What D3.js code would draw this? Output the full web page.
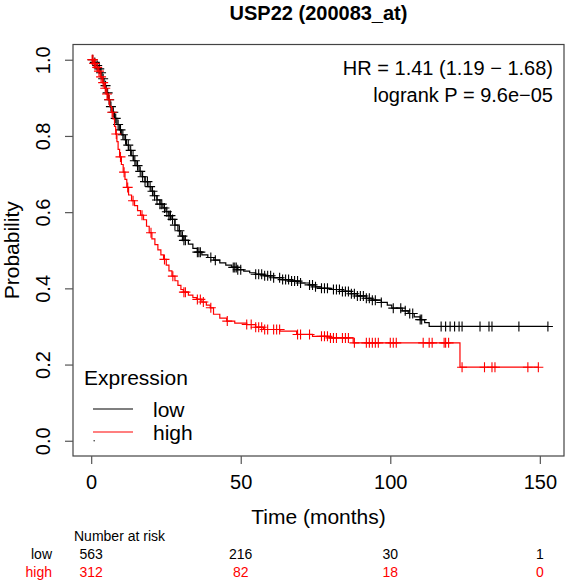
<!DOCTYPE html>
<html><head><meta charset="utf-8">
<script src="https://cdn.jsdelivr.net/npm/d3@7"></script>
<style>body{margin:0;background:#fff}svg{display:block;font-family:"Liberation Sans",Arial,sans-serif}</style>
</head><body>
<script>
const title = "USP22 (200083_at)";
const groups = ["low", "high"];
const groupColors = ["#000000", "#ff0000"];
const xTicks = [0, 50, 100, 150];
const yTicks = [0.0, 0.2, 0.4, 0.6, 0.8, 1.0];
const statLines = ["HR = 1.41 (1.19 \u2212 1.68)", "logrank P = 9.6e\u221205"];
const riskTimes = [0, 50, 100, 150];
const riskLow = [563, 216, 30, 1];
const riskHigh = [312, 82, 18, 0];

// Kaplan-Meier steps [time, survival]
const lowSteps = [[0,1],[0.8,0.993],[1.5,0.985],[2.2,0.976],[3,0.966],[3.6,0.95],[4.3,0.932],[5,0.913],[5.7,0.895],[6.3,0.877],[7,0.862],[7.8,0.846],[8.6,0.83],[9.4,0.816],[10.2,0.803],[11,0.79],[11.8,0.776],[12.6,0.762],[13.4,0.748],[14.2,0.735],[15,0.722],[16,0.707],[17,0.693],[18,0.68],[19,0.667],[20,0.655],[21,0.643],[22,0.632],[23,0.621],[24,0.611],[25,0.601],[26,0.591],[27,0.581],[28,0.566],[29,0.551],[30,0.537],[31,0.526],[32.5,0.516],[34,0.505],[35.5,0.495],[37,0.488],[39,0.481],[41,0.474],[43,0.467],[45,0.461],[47,0.455],[49,0.449],[51,0.445],[53,0.441],[55,0.437],[58,0.433],[61,0.428],[64,0.423],[67,0.419],[70,0.414],[73,0.409],[75,0.404],[77,0.4],[80,0.397],[84,0.392],[87,0.386],[89,0.38],[92,0.374],[94,0.369],[97,0.363],[99,0.356],[100.5,0.348],[104,0.341],[106,0.334],[108,0.325],[110,0.318],[111.5,0.31],[113,0.30]];
const lowEnd = 152.7;
const lowCensor = [0.5,1.2,2,2.7,3.3,4,4.8,5.5,6,6.6,7.4,8.2,9,9.8,10.6,11.5,12.4,13.2,14,14.6,15.5,16.4,17.2,18,18.8,19.7,20.5,21.2,22,23,23.6,24.5,25.3,26,26.5,27.2,28,29.5,30.5,31,31.5,35.5,36,36.5,40,41.5,47.5,48,48.5,49,50,55,56,57,58,59,60,61,63,64,65,66,67,68,69,70,73,74,75,77,78,79,81,82,83,84,85,86,87,88,89,90,91,92,93,94,95,97,101,103.5,105,106.5,107.5,110,110.5,117,118.5,120,121.5,123,124,130,133,134,143,152.7];

const highSteps = [[0,1],[0.8,0.99],[1.5,0.98],[2.3,0.97],[3,0.955],[3.7,0.94],[4.4,0.925],[5,0.91],[5.6,0.895],[6.2,0.878],[6.8,0.862],[7.3,0.845],[7.8,0.825],[8.2,0.805],[8.6,0.785],[9,0.765],[9.5,0.745],[10.1,0.725],[10.7,0.705],[11.3,0.686],[11.9,0.665],[12.5,0.645],[13.5,0.63],[14.5,0.617],[15.5,0.604],[16.5,0.592],[17.5,0.58],[18.5,0.563],[19.4,0.546],[20.3,0.53],[21.3,0.515],[22.3,0.501],[23.3,0.488],[24.2,0.476],[25.1,0.461],[26,0.446],[27,0.432],[28,0.42],[29,0.408],[30,0.397],[30.8,0.39],[32.5,0.382],[34,0.376],[35.3,0.371],[37,0.364],[38.5,0.356],[39.8,0.349],[40.9,0.332],[43,0.322],[45.3,0.314],[48,0.309],[52,0.305],[55,0.298],[57.6,0.292],[63.1,0.288],[68.7,0.279],[74,0.274],[79.8,0.27],[87.6,0.257],[123.3,0.193]];
const highEnd = 149.5;
const highCensor = [0.3,0.6,1,1.3,2,2.6,3.3,4,4.7,5.3,6,7,8.4,9.8,11,12.2,14,17,20,24.5,27.3,31,31.5,35.5,36.5,37.5,40,45.5,52,53.5,55,56,57,58,59,61,62,63,69,70,73,77,78,79,80,81,82,84,85,86,88,92,93,94,95,96,100,101,102,111,113,114,118,118.5,119.5,124,131.5,134,135,146,149.5];

const W = 566, H = 581;
const box = {left: 73, right: 564, top: 44.5, bottom: 456};
const svg = d3.select("body").append("svg").attr("width", W).attr("height", H);

const x = d3.scaleLinear().domain([-6.08, 158.08]).range([box.left, box.right]);
const y = d3.scaleLinear().domain([-0.04, 1.04]).range([box.bottom, box.top]);

// title
svg.append("text").attr("x", (box.left + box.right) / 2).attr("y", 20)
  .attr("text-anchor", "middle").attr("font-size", 20).attr("font-weight", "bold").text(title);

// box
svg.append("rect").attr("x", box.left).attr("y", box.top)
  .attr("width", box.right - box.left).attr("height", box.bottom - box.top)
  .attr("fill", "none").attr("stroke", "#444").attr("stroke-width", 1.2);

// x axis
const xAxis = d3.axisBottom(x).tickValues(xTicks).tickSize(8).tickPadding(4).tickFormat(d3.format("d"));
const gx = svg.append("g").attr("transform", `translate(0,${box.bottom})`).call(xAxis);
gx.select(".domain").remove();
gx.selectAll("line").attr("stroke", "#555").attr("stroke-width", 1.2);
gx.selectAll("text").attr("font-size", 20).attr("fill", "#000")
  .attr("font-family", "Liberation Sans, Arial, sans-serif").attr("dy", null).attr("y", 33);

// y axis
const yAxis = d3.axisLeft(y).tickValues(yTicks).tickSize(8).tickFormat(d3.format(".1f"));
const gy = svg.append("g").attr("transform", `translate(${box.left},0)`).call(yAxis);
gy.select(".domain").remove();
gy.selectAll("line").attr("stroke", "#555").attr("stroke-width", 1.2);
gy.selectAll("text").attr("font-size", 20).attr("fill", "#000")
  .attr("font-family", "Liberation Sans, Arial, sans-serif")
  .attr("x", null).attr("dy", null)
  .attr("text-anchor", "middle")
  .attr("transform", "translate(-23,0) rotate(-90)");

// axis titles
svg.append("text").attr("x", (box.left + box.right) / 2).attr("y", 524)
  .attr("text-anchor", "middle").attr("font-size", 21).text("Time (months)");
svg.append("text").attr("transform", `translate(19,${(box.top + box.bottom) / 2}) rotate(-90)`)
  .attr("text-anchor", "middle").attr("font-size", 21).text("Probability");

// curves
function stepValue(steps, t) {
  let s = steps[0][1];
  for (const [tt, v] of steps) { if (tt <= t) s = v; else break; }
  return s;
}
const line = d3.line().x(d => x(d[0])).y(d => y(d[1])).curve(d3.curveStepAfter);
const series = [
  {steps: lowSteps, end: lowEnd, censor: lowCensor, color: groupColors[0]},
  {steps: highSteps, end: highEnd, censor: highCensor, color: groupColors[1]}
];
const plotG = svg.append("g");
series.forEach(s => {
  const pts = s.steps.concat([[s.end, s.steps[s.steps.length - 1][1]]]);
  plotG.append("path").datum(pts).attr("d", line)
    .attr("fill", "none").attr("stroke", s.color).attr("stroke-width", 1.2);
  const m = 5;
  plotG.append("g").selectAll("path").data(s.censor).join("path")
    .attr("d", t => {
      const cx = x(t), cy = y(stepValue(s.steps, t));
      return `M${cx - m},${cy}H${cx + m}M${cx},${cy - m}V${cy + m}`;
    })
    .attr("stroke", s.color).attr("stroke-width", 1.1).attr("fill", "none");
});
// small stray dot
plotG.append("circle").attr("cx", x(1)).attr("cy", y(0)).attr("r", 0.8).attr("fill", "#333");

// stats text
statLines.forEach((t, i) => {
  svg.append("text").attr("x", 553).attr("y", 75 + i * 26.5)
    .attr("text-anchor", "end").attr("font-size", 20).text(t);
});

// legend
svg.append("text").attr("x", 84).attr("y", 385).attr("font-size", 21).text("Expression");
groups.forEach((g, i) => {
  const ly = 409 + i * 23;
  svg.append("line").attr("x1", 93).attr("x2", 133).attr("y1", ly).attr("y2", ly)
    .attr("stroke", groupColors[i]).attr("stroke-width", 1.2);
  svg.append("text").attr("x", 153).attr("y", ly + 8).attr("font-size", 21).text(g);
});

// risk table
svg.append("text").attr("x", 74).attr("y", 541).attr("font-size", 14).text("Number at risk");
[riskLow, riskHigh].forEach((row, i) => {
  const ry = 559 + i * 17.7;
  svg.append("text").attr("x", 52).attr("y", ry).attr("text-anchor", "end")
    .attr("font-size", 14).attr("fill", groupColors[i]).text(groups[i]);
  row.forEach((v, j) => {
    svg.append("text").attr("x", x(riskTimes[j])).attr("y", ry).attr("text-anchor", "middle")
      .attr("font-size", 14).attr("fill", groupColors[i]).text(v);
  });
});
</script>
</body></html>
